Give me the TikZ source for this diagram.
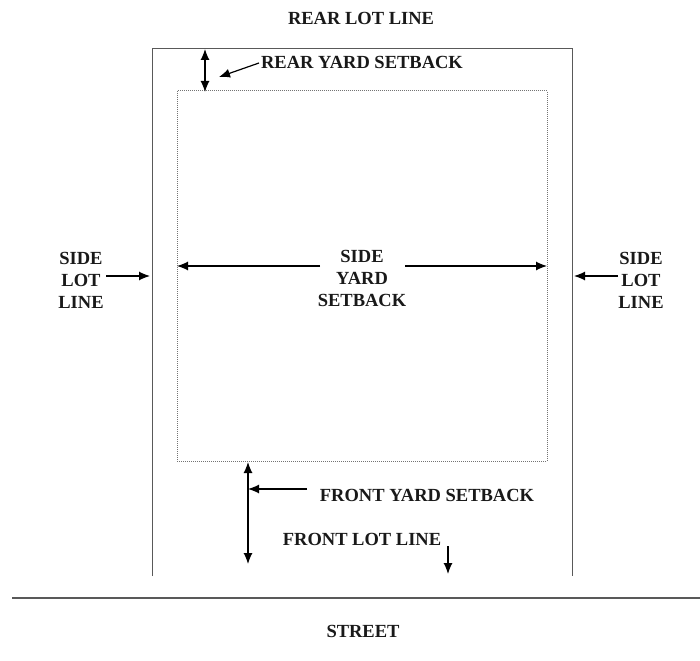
\documentclass[tikz,border=0pt]{standalone}
\usepackage{fontspec}
\setmainfont{Liberation Serif}
\usetikzlibrary{arrows.meta}
\begin{document}
\begin{tikzpicture}[x=1pt,y=-1pt,
  lbl/.style={font=\fontsize{18.5}{22}\selectfont\bfseries, inner sep=0pt, align=center, text=black!90},
  lotline/.style={draw=black!65, line width=1pt},
  setback/.style={draw=black!55, line width=1pt, densely dotted},
  arr/.style={draw=black, line width=1.2pt, -{Latex[length=11pt,width=9pt]}},
  darr/.style={draw=black, line width=1.2pt, {Latex[length=11pt,width=9pt]}-{Latex[length=11pt,width=9pt]}}]
\useasboundingbox[fill=white] (0,0) rectangle (700,660);
% lot lines
\coordinate (lotBL) at (152,576);
\coordinate (lotTL) at (152,49);
\coordinate (lotTR) at (572,49);
\coordinate (lotBR) at (572,576);
\draw[lotline] (lotBL) -- (lotTL) -- (lotTR) -- (lotBR);
% setback rectangle
\coordinate (sbTL) at (177,91);
\coordinate (sbBR) at (547,461);
\draw[setback] (sbTL) rectangle (sbBR);
% street
\coordinate (stL) at (12,598);
\coordinate (stR) at (700,598);
\draw[draw=black!65, line width=1.2pt] (stL) -- (stR);
% labels
\node[lbl] (rearlot) at (361,18) {REAR LOT LINE};
\node[lbl] (rearyard) at (362,62) {REAR YARD SETBACK};
\node[lbl] (sideL) at (81,280) {SIDE\\LOT\\LINE};
\node[lbl] (sideR) at (641,280) {SIDE\\LOT\\LINE};
\node[lbl] (sideyard) at (362,278) {SIDE\\YARD\\SETBACK};
\node[lbl] (frontyard) at (427,495) {FRONT YARD SETBACK};
\node[lbl] (frontlot) at (362,539) {FRONT LOT LINE};
\node[lbl] (street) at (363,631) {STREET};
% rear yard arrows
\coordinate (ryTop) at (205,49);
\coordinate (ryBot) at (205,92);
\draw[darr] (ryTop) -- (ryBot);
\coordinate (ryPtS) at (259,63);
\coordinate (ryPtE) at (219,77);
\draw[arr] (ryPtS) -- (ryPtE);
% side lot arrows
\coordinate (slLs) at (106,276);
\coordinate (slLe) at (150,276);
\draw[arr] (slLs) -- (slLe);
\coordinate (slRs) at (618,276);
\coordinate (slRe) at (574,276);
\draw[arr] (slRs) -- (slRe);
% side yard arrows
\coordinate (syLs) at (320,266);
\coordinate (syLe) at (177,266);
\draw[arr] (syLs) -- (syLe);
\coordinate (syRs) at (405,266);
\coordinate (syRe) at (547,266);
\draw[arr] (syRs) -- (syRe);
% front yard arrows
\coordinate (fyTop) at (248,462);
\coordinate (fyBot) at (248,564);
\draw[darr] (fyTop) -- (fyBot);
\coordinate (fyPtS) at (307,489);
\coordinate (fyPtE) at (248,489);
\draw[arr] (fyPtS) -- (fyPtE);
% front lot arrow
\coordinate (flS) at (448,546);
\coordinate (flE) at (448,574);
\draw[arr] (flS) -- (flE);
\end{tikzpicture}
\end{document}
